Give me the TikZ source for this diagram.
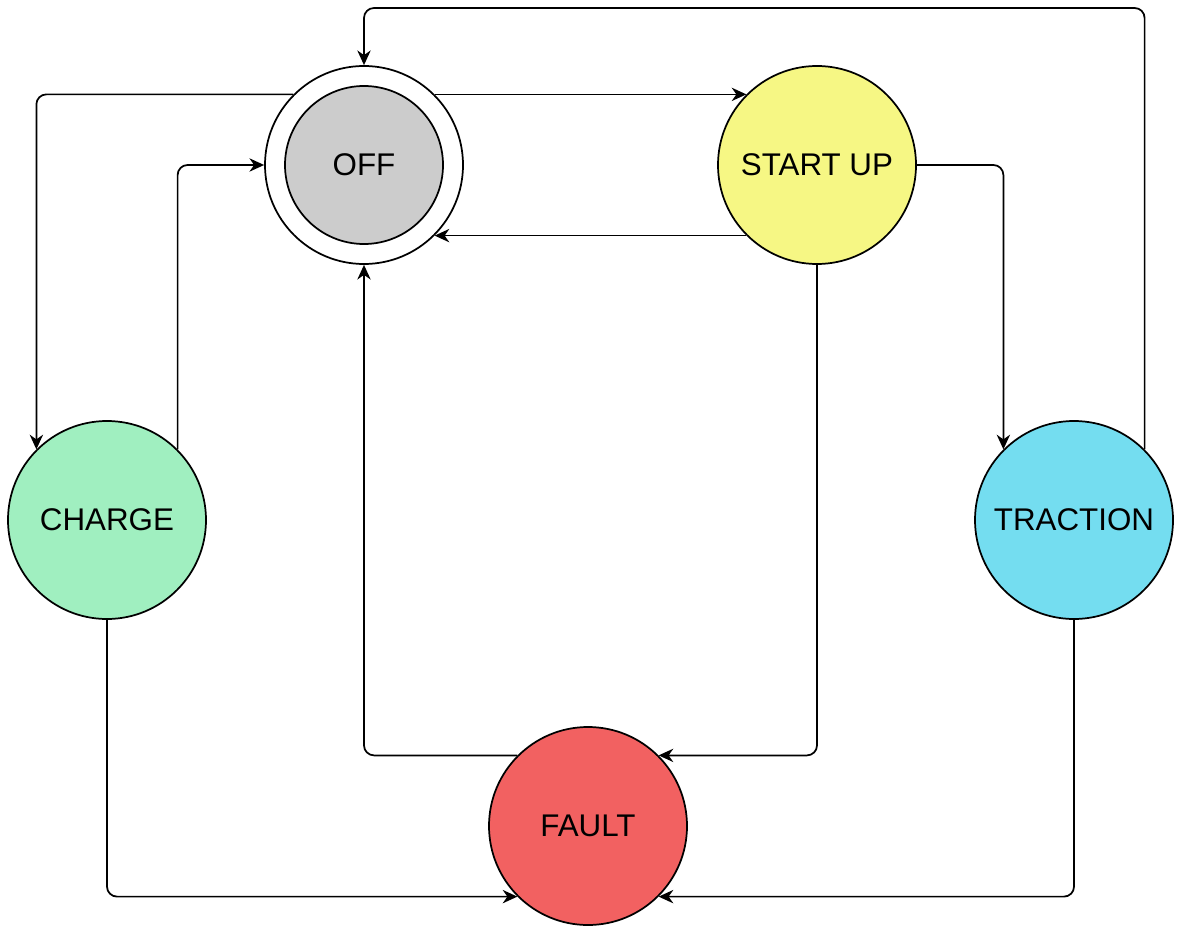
\documentclass[tikz,border=0pt]{standalone}
\usepackage{fontspec}
\setmainfont{Liberation Sans}
\usetikzlibrary{arrows.meta}
\definecolor{offgray}{HTML}{CCCCCC}
\definecolor{startyel}{HTML}{F6F784}
\definecolor{chargegrn}{HTML}{A0EFC0}
\definecolor{tractblue}{HTML}{74DDF0}
\definecolor{faultred}{HTML}{F26161}
\tikzset{
  state/.style={circle, draw=black, line width=1.3pt, minimum size=148.5pt, inner sep=0pt,
    font=\fontsize{23.5}{28}\selectfont},
  innerstate/.style={circle, draw=black, line width=1.3pt, minimum size=118.5pt, inner sep=0pt,
    font=\fontsize{23.5}{28}\selectfont},
  conn/.style={draw=black, line width=1.3pt, rounded corners=7.5pt,
    -{Stealth[length=11pt,width=10pt,inset=3.5pt]}},
}
\begin{document}
\begin{tikzpicture}[x=0.75pt,y=-0.75pt]
\path[use as bounding box] (0,0) rectangle (1181,927);
\node[state, fill=white] (off) at (364,165) {};
\node[innerstate, fill=offgray] (offin) at (364,165) {OFF};
\node[state, fill=startyel] (startup) at (817,165) {START UP};
\node[state, fill=chargegrn] (charge) at (107,520) {CHARGE};
\node[state, fill=tractblue] (traction) at (1074,520) {TRACTION};
\node[state, fill=faultred] (fault) at (588,826) {FAULT};
\coordinate (topline) at (0,8);

\draw[conn] (off.45) -- (startup.135);
\draw[conn] (startup.225) -- (off.-45);
\draw[conn] (off.135) -| (charge.135);
\draw[conn] (charge.45) |- (off.west);
\draw[conn] (startup.east) -| (traction.135);
\draw[conn] (traction.45) -- (traction.45 |- topline) -| (off.north);
\draw[conn] (startup.south) |- (fault.45);
\draw[conn] (fault.135) -| (off.south);
\draw[conn] (charge.south) |- (fault.-135);
\draw[conn] (traction.south) |- (fault.-45);
\end{tikzpicture}
\end{document}
